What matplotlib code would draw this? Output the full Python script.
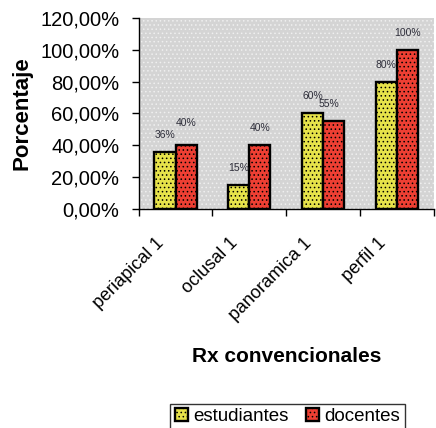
import numpy as np
import matplotlib.pyplot as plt
from matplotlib.ticker import FuncFormatter
from matplotlib.transforms import ScaledTranslation

plt.rcParams['font.family'] = ['Liberation Sans', 'DejaVu Sans']
plt.rcParams['hatch.linewidth'] = 0.6

categorias = ['periapical 1', 'oclusal 1', 'panoramica 1', 'perfil 1']
estudiantes = [36, 15, 60, 80]
docentes = [40, 40, 55, 100]
y_ticks = [0, 20, 40, 60, 80, 100, 120]

# small pixel nudges for a few value labels (series, category) -> (dx, dy)
nudge = {(1, 0): (0, 5), (1, 2): (-5, 0)}

fig = plt.figure(figsize=(4.36, 4.28), dpi=100)
ax = fig.add_axes([0.318, 0.512, 0.677, 0.446])

# dotted grey plot area
ax.set_facecolor('#d4d4d4')
ax.add_patch(plt.Rectangle((0, 0), 1, 1, transform=ax.transAxes, facecolor='none',
                           edgecolor='#efefef', hatch='....', lw=0, zorder=0))

x = np.arange(len(categorias))
w = 0.286
b1 = ax.bar(x - w / 2, estudiantes, w, color='#e6e24a', edgecolor='black', lw=1.7,
            hatch='....', label='estudiantes', zorder=2)
b2 = ax.bar(x + w / 2, docentes, w, color='#ee3f33', edgecolor='black', lw=1.7,
            hatch='....', label='docentes', zorder=2)

# value labels above the bars
for s, (vals, off) in enumerate(((estudiantes, -w / 2), (docentes, w / 2))):
    for i, v in enumerate(vals):
        dx, dy = nudge.get((s, i), (0, 0))
        ax.annotate(f'{v}%', (x[i] + off, v), xytext=(dx * 0.72, (17 + dy) * 0.72),
                    textcoords='offset points', ha='center', va='center',
                    fontsize=7.5, color='#2e2e3a')

ax.set_xlim(-0.5, len(categorias) - 0.5)
ax.set_ylim(0, 120)
ax.set_yticks(y_ticks)
ax.yaxis.set_major_formatter(FuncFormatter(lambda v, _: f'{v:.2f}'.replace('.', ',') + '%'))
ax.tick_params(axis='y', labelsize=14.5, length=5, width=1, pad=9)

ax.set_xticks(x)
ax.set_xticklabels(categorias, rotation=45, ha='right', va='center', rotation_mode='anchor',
                   fontsize=13)
ax.tick_params(axis='x', which='major', length=0, pad=0)
shift = ScaledTranslation(-14 / 100, -32 / 100, fig.dpi_scale_trans)
for lab in ax.get_xticklabels():
    lab.set_transform(lab.get_transform() + shift)
ax.set_xticks(np.arange(len(categorias) + 1) - 0.5, minor=True)
ax.tick_params(axis='x', which='minor', length=5, width=1)

for s in ('top', 'right'):
    ax.spines[s].set_visible(False)
for s in ('left', 'bottom'):
    ax.spines[s].set_linewidth(1)

ax.set_ylabel('Porcentaje', fontsize=16, fontweight='bold')
ax.yaxis.set_label_coords(-0.36, 0.5)
fig.text(0.658, 0.168, 'Rx convencionales', ha='center', va='center', fontsize=15,
         fontweight='bold')

leg = fig.legend(handles=[b1, b2], loc='upper center', bbox_to_anchor=(0.659, 0.079), ncol=2,
                 fontsize=13.5, frameon=True, fancybox=False, edgecolor='black',
                 handlelength=0.7, handleheight=0.7, handletextpad=0.3, columnspacing=0.9,
                 borderpad=0.25)
leg.get_frame().set_linewidth(1)

fig.savefig('out.png', dpi=100)
